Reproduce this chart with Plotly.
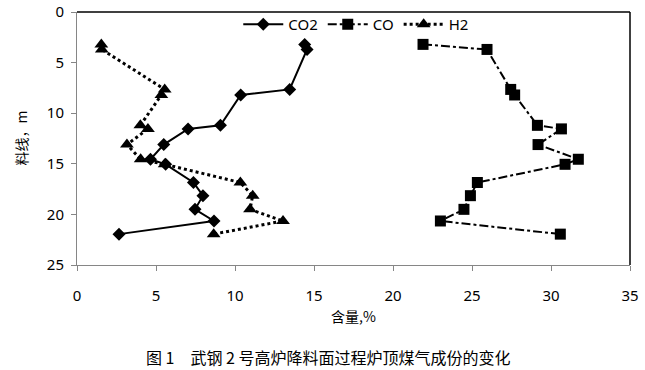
import plotly.graph_objects as go

depth = [3.2, 3.7, 7.65, 8.2, 11.2, 11.55, 13.1, 14.55, 15.05, 16.85, 18.15, 19.5, 20.65, 21.95]
co2 = [14.41, 14.56, 13.46, 10.36, 9.08, 7.03, 5.49, 4.65, 5.61, 7.37, 7.97, 7.47, 8.67, 2.66]
co = [21.90, 25.95, 27.45, 27.70, 29.14, 30.66, 29.18, 31.73, 30.89, 25.34, 24.90, 24.49, 23.00, 30.59]
h2 = [1.54, 1.57, 5.55, 5.34, 4.01, 4.49, 3.16, 4.03, 5.55, 10.34, 11.12, 10.95, 13.04, 8.65]

x_ticks = [0, 5, 10, 15, 20, 25, 30, 35]
y_ticks = [0, 5, 10, 15, 20, 25]

fig = go.Figure()
fig.add_trace(go.Scatter(x=co2, y=depth, name="CO2", mode="lines+markers",
                         line=dict(color="black", width=2, dash="solid"),
                         marker=dict(symbol="diamond", size=10, color="black")))
fig.add_trace(go.Scatter(x=co, y=depth, name="CO", mode="lines+markers",
                         line=dict(color="black", width=2, dash="dashdot"),
                         marker=dict(symbol="square", size=11, color="black")))
fig.add_trace(go.Scatter(x=h2, y=depth, name="H2", mode="lines+markers",
                         line=dict(color="black", width=3, dash="dot"),
                         marker=dict(symbol="triangle-up", size=12, color="black")))

axis_common = dict(showgrid=False, zeroline=False, showline=True, linecolor="#868686",
                   linewidth=1, ticks="outside", ticklen=5, tickcolor="#868686",
                   automargin=False,
                   tickfont=dict(family="Noto Sans", size=15, color="black"))

fig.update_xaxes(range=[0, 35], tickvals=x_ticks, ticklabelstandoff=12, **axis_common)
fig.update_yaxes(range=[25, 0], tickvals=y_ticks, ticklabelstandoff=4, **axis_common)

fig.update_layout(
    width=645, height=370,
    margin=dict(l=77, r=15, t=12, b=105, autoexpand=False),
    paper_bgcolor="white", plot_bgcolor="white",
    showlegend=True,
    legend=dict(orientation="h", x=0.505, y=0.951, xanchor="center", yanchor="middle",
                bgcolor="rgba(0,0,0,0)", font=dict(family="Noto Sans", size=15, color="black"),
                itemwidth=40, tracegroupgap=0),
    shapes=[
        dict(type="line", xref="paper", yref="paper", x0=0, x1=1, y0=1, y1=1,
             line=dict(color="black", width=1.5)),
        dict(type="line", xref="paper", yref="paper", x0=1, x1=1, y0=0, y1=1,
             line=dict(color="black", width=1.5)),
    ],
    annotations=[
        dict(text="含量,%", xref="paper", yref="paper", x=0.5, y=-0.202,
             showarrow=False, xanchor="center", yanchor="middle",
             font=dict(family="Noto Sans CJK SC", size=14, color="black")),
        dict(text="料线，m", xref="paper", yref="paper", x=-0.103, y=0.5, textangle=-90,
             showarrow=False, xanchor="center", yanchor="middle",
             font=dict(family="Noto Sans CJK SC", size=14, color="black")),
        dict(text="图 1　武钢 2 号高炉降料面过程炉顶煤气成份的变化", xref="paper", yref="paper",
             x=0.454, y=-0.363, showarrow=False, xanchor="center", yanchor="middle",
             font=dict(family="Noto Sans CJK SC", size=16, color="black")),
    ],
)

fig.write_html("out.html", config={"displayModeBar": False},
               post_script="document.body.style.margin='0px';document.body.style.overflow='hidden';")
